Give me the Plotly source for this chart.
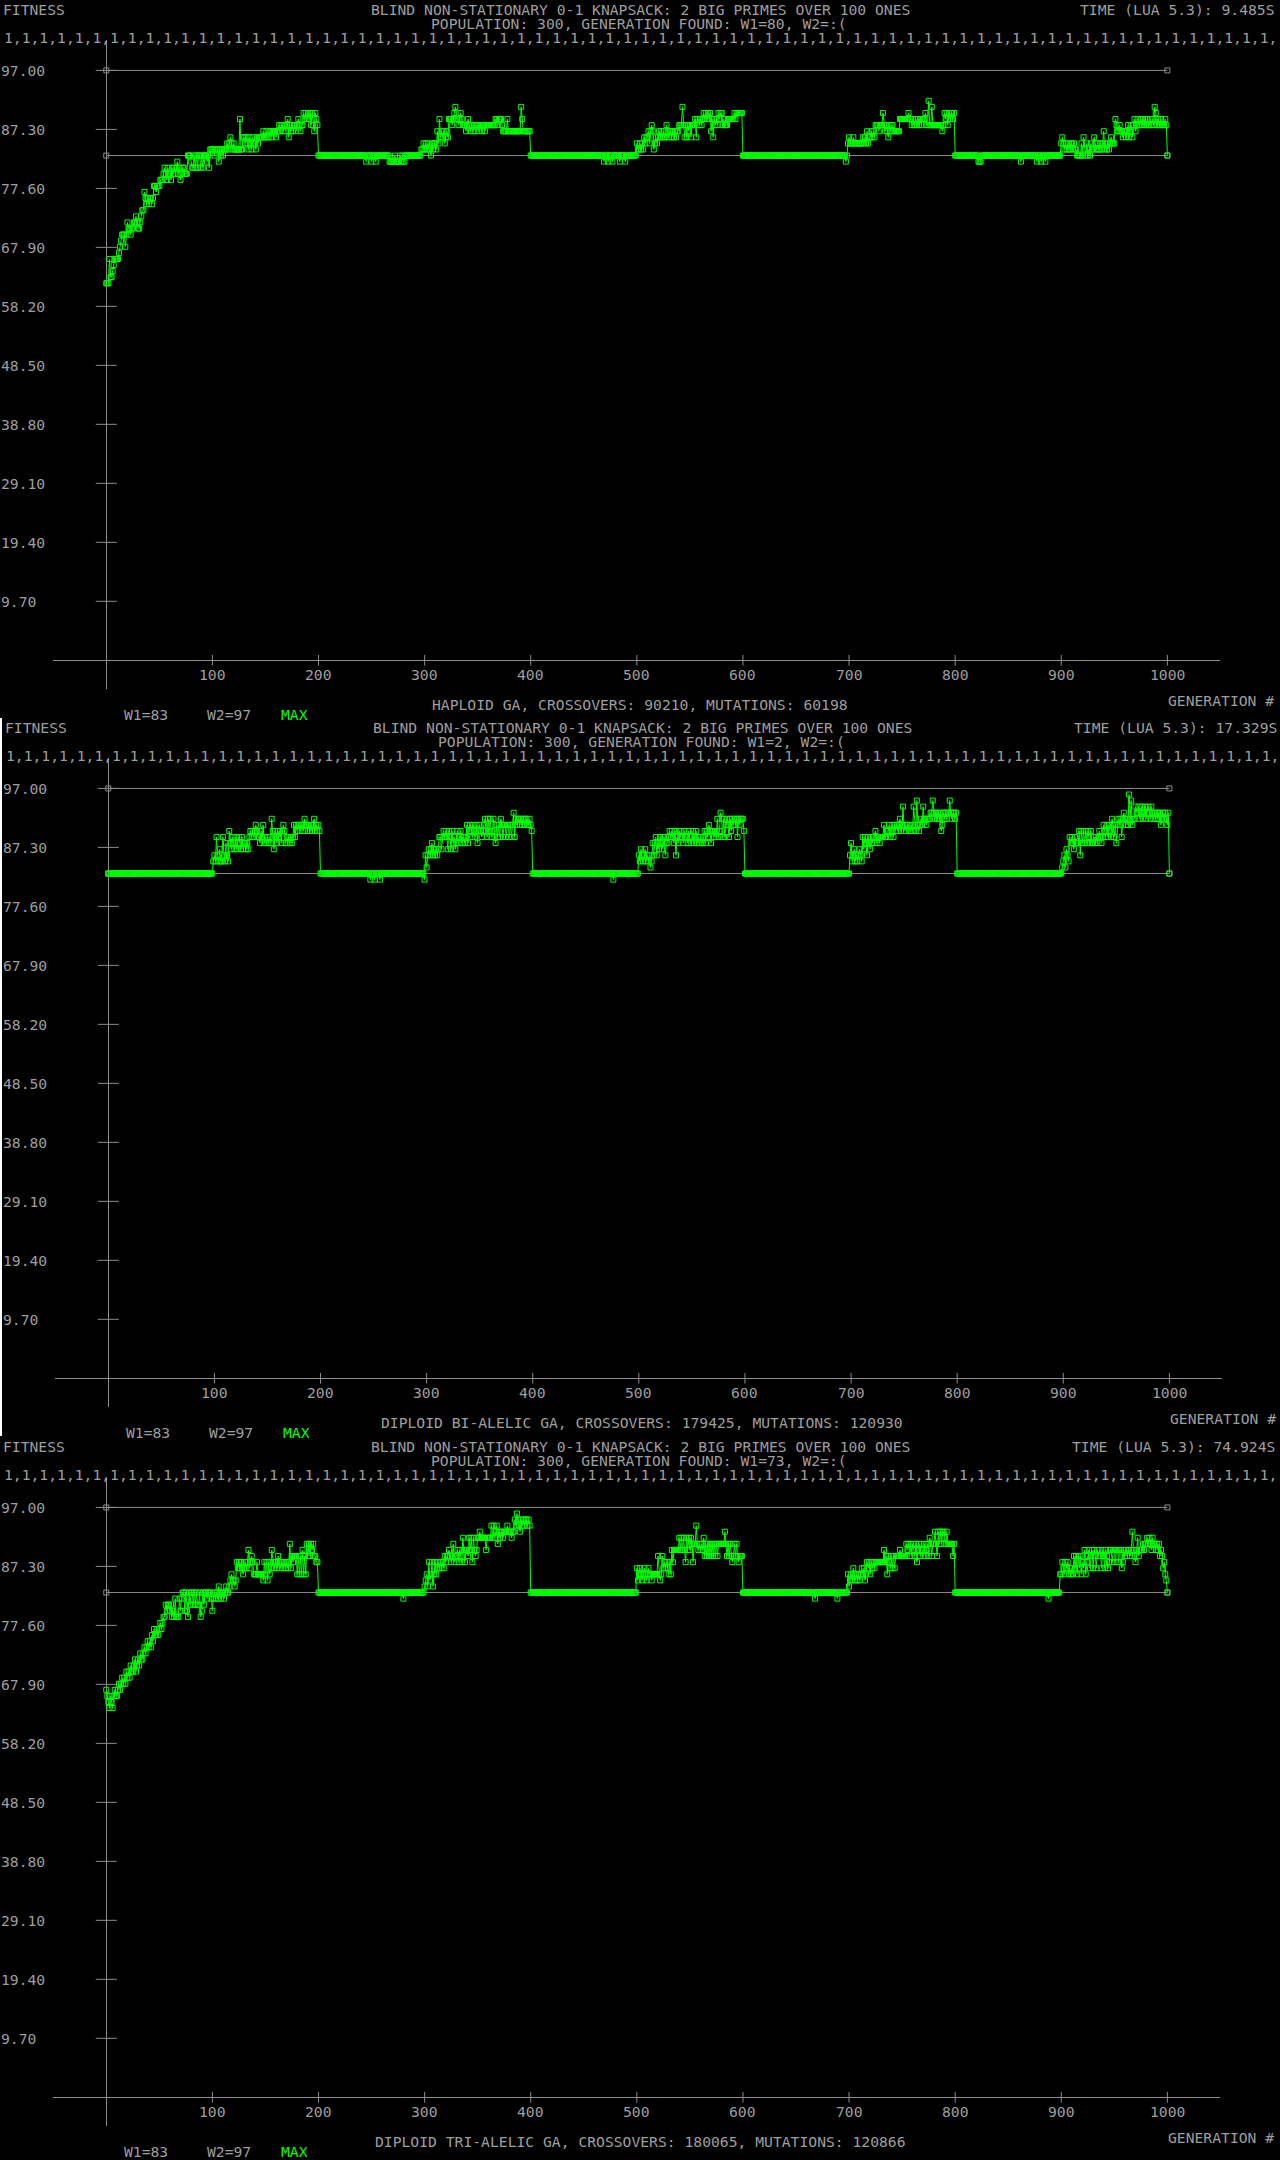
import plotly.graph_objects as go

# ---------------------------------------------------------------- data
GENERATIONS = list(range(0, 1001))
X_TICKS = [100, 200, 300, 400, 500, 600, 700, 800, 900, 1000]
X_TICK_LABELS = ["100", "200", "300", "400", "500", "600", "700", "800", "900", "1000"]
Y_TICKS = [9.7, 19.4, 29.1, 38.8, 48.5, 58.2, 67.9, 77.6, 87.3, 97.0]
Y_TICK_LABELS = ["9.70", "19.40", "29.10", "38.80", "48.50", "58.20", "67.90", "77.60", "87.30", "97.00"]
W1_VALUE = 83
W2_VALUE = 97
LEGEND_LABELS = ["W1=83", "W2=97", "MAX"]

TITLE_TOP = "BLIND NON-STATIONARY 0-1 KNAPSACK: 2 BIG PRIMES OVER 100 ONES"
POPULATION_LINES = [
    "POPULATION: 300, GENERATION FOUND: W1=80, W2=:(",
    "POPULATION: 300, GENERATION FOUND: W1=2, W2=:(",
    "POPULATION: 300, GENERATION FOUND: W1=73, W2=:(",
]
TIME_LINES = ["TIME (LUA 5.3): 9.485S", "TIME (LUA 5.3): 17.329S", "TIME (LUA 5.3): 74.924S"]
GA_LINES = [
    "HAPLOID GA, CROSSOVERS: 90210, MUTATIONS: 60198",
    "DIPLOID BI-ALELIC GA, CROSSOVERS: 179425, MUTATIONS: 120930",
    "DIPLOID TRI-ALELIC GA, CROSSOVERS: 180065, MUTATIONS: 120866",
]
GENOME_ROW = "1," * 72

# best fitness per generation.
# ramps are plain lists; the rest is one character per generation:
# value = 80 + digit (base 36, so a=90, b=91 ...)
HAPLOID_RAMP = [62, 62, 62, 66, 63, 63, 64, 65, 66, 66,
                66, 66, 67, 68, 69, 70, 70, 70, 68, 70,
                72, 71, 71, 70, 71, 71, 72, 72, 73, 72,
                71, 71, 72, 73, 74, 74, 77, 76, 75, 76,
                75, 76, 76, 75, 76, 78, 78, 77, 78, 78,
                78, 79, 79, 79, 80, 81, 80, 79, 81, 80,
                80, 79, 81, 80, 81, 80, 81, 82, 80, 81,
                79, 80, 81, 81, 80, 80, 80, 83, 83, 83,
                82, 81, 81, 83, 81, 83, 81, 83, 83, 81,
                83, 81, 83, 83, 83, 82, 83, 81, 84, 84]
HAPLOID_SEGMENTS = [
    "4434442434 3444545654 5444449446 6565465465 5465666676 6766776777 6778788787 8968787887 898788a9a9 a9a8a87a98",
    "3333333333 3333333333 3333333333 3333333333 3333323333 2333233333 3333333222 2232222323 2233333333 3333333445",
    "4545443545 5475967675 67699989ab 9989a98887 8987887878 8788788788 8888888998 9998777797 7777777777 7b97777777",
    "3333333333 3333333333 3333333333 3333333333 3333333333 3333333333 3333333332 3332333233 3333233332 3333333333",
    "5445454656 6757874565 6767676687 6776767677 888b868687 8688896998 989a9a9a9a 7969898a9a a898889999 99a9aaaaaa",
    "3333333333 3333333333 3333333333 3333333333 3333333333 3333333333 3333333333 3333333333 3333333333 3333333235",
    "6555655555 5556565756 6767688878 88a8787687 8877777799 999999a998 9889898989 99a88c88b8 8888888878 a9a8a9aa9a",
    "3333333333 3333333333 3322233333 3333333333 3333333333 3333333333 3323333333 3333333233 3233323333 3333333333",
    "5654545445 5454433335 3643534354 4654544545 7454545655 5987787767 7678678689 7898898989 89889898ba 8988988898",
]
BIALLELIC_SEGMENTS = [
    "3333333333 3333333333 3333333333 3333333333 3333333333 3333333333 3333333333 3333333333 3333333333 3333333335",
    "6596575596 5865a87987 9789879788 7879a9a9ab a998a9b898 9898ca7a98 a9a8aba898 98989b9bab babbacbbab ababcababa",
    "3333333333 3333333333 3333333333 3333333333 3333333233 3233332333 3333333333 3333333333 3333333333 3333333326",
    "4676786767 679979a9a9 7a97a8978a 89a89989b8 aba9ba9b8a ba9abca9ca c9ac98b9b9 cb9bb9bb9b 9bd9cbccbc bcbccbbcba",
    "3333333333 3333333333 3333333333 3333333333 3333333333 3333333333 3333333333 3333332333 3333333333 3333333333",
    "6576567565 6458689687 987996889a 9a98a698a9 a98a998a98 9a89a89898 89a8a9ba8a a9a9c9adc9 c9bcb9cacb cbc9cbccca",
    "3333333333 3333333333 3333333333 3333333333 3333333333 3333333333 3333333333 3333333333 3333333333 3333333336",
    "8567565676 5979869879 899a899899 9b99aab9ab 9bababcabe ababbaabae bafbabcbec cbcccddfdc dcdcdabdcd cddfdcddcd",
    "3333333333 3333333333 3333333333 3333333333 3333333333 3333333333 3333333333 3333333333 3333333333 3333333334",
    "5647659898 79888a6a8a 8a8a98a889 8989a989ba 9b9ba9cb9b 8bcbc9cdcb cbgcfbcced decdecdecd edcedcdcdc ddbcdcdcbd",
]
TRIALLELIC_RAMP = [67, 66, 65, 64, 66, 65, 64, 66, 67, 66,
                   66, 67, 68, 67, 68, 69, 68, 69, 68, 70,
                   69, 70, 69, 71, 70, 70, 71, 72, 70, 71,
                   72, 71, 73, 72, 72, 73, 74, 73, 74, 75,
                   74, 75, 74, 76, 75, 77, 76, 76, 77, 76,
                   77, 78, 77, 78, 79, 79, 81, 80, 81, 81,
                   80, 81, 79, 80, 79, 82, 79, 79, 79, 82,
                   80, 82, 83, 83, 80, 83, 80, 79, 83, 81,
                   83, 83, 81, 83, 81, 83, 81, 81, 83, 79,
                   80, 83, 81, 83, 83, 82, 83, 83, 83, 82]
TRIALLELIC_SEGMENTS = [
    "0232324323 3234334565 5458787876 7878a78986 6686666658 685867a878 8798788787 878b798999 69696a696b 9b9bab9988",
    "3333333333 3333333333 3333333333 3333333333 3333333333 3333333333 3333333333 3333333333 2333333333 3333333333",
    "4564856846 8678787879 899a989b89 9a8a98ca8a a9cac8ca9a ccdcccccac cccececdeb dcddcddded ddcddfegfe dfefeffefe",
    "3333333333 3333333333 3333333333 3333333333 3333333333 3333333333 3333333333 3333333333 3333333333 3333333333",
    "7567656765 6766566666 9656978787 686a8aaaaa cacaca8cac acb8bbebab abac9b9b9b 9b9b9b9bbb bbbdb9b9b9 89b9b98999",
    "3333333333 3333333333 3333333333 3333333333 3333333333 3333333333 3333333323 3333333333 3333333332 3333333336",
    "4565765656 5676756878 6878788888 888a896987 97979999a9 9999bab9b9 ba9b8ab9ba 9b9ab9cb9b bdb9dbdbdd cbdbbbbb9b",
    "3333333333 3333333333 3333333333 3333333333 3333333333 3333333333 3333333333 3333333333 3333333323 3333333336",
    "6876878676 7697969796 87a689a79a 7a97a9a97a 97a978aa8a a8aa8aa78a 9a9aa9ada9 8ac9aaabab bcbcbacbba bab9a97865",
]
FINAL_VALUE = 83


def decode(segments):
    vals = []
    for seg in segments:
        for ch in seg.replace(" ", ""):
            vals.append(80 + int(ch, 36))
    return vals


MAX_HAPLOID = HAPLOID_RAMP + decode(HAPLOID_SEGMENTS) + [FINAL_VALUE]
MAX_BIALLELIC = decode(BIALLELIC_SEGMENTS) + [FINAL_VALUE]
MAX_TRIALLELIC = TRIALLELIC_RAMP + decode(TRIALLELIC_SEGMENTS) + [FINAL_VALUE]
SERIES = [MAX_HAPLOID, MAX_BIALLELIC, MAX_TRIALLELIC]

# ---------------------------------------------------------------- style / layout
W, H = 1280, 2160
GREEN = "#00ff00"
LINE_GRAY = "#8c8c8c"
TEXT_GRAY = "#9e9e9e"
FONT = "DejaVu Sans Mono"
FS = 14.7

PANEL_OFFSETS = [0, 718, 1437]
PANEL_SHIFTS = [0, 2, 0]
PLOT_LEFT, PLOT_RIGHT = 53.0, 1219.6
PLOT_TOP, PLOT_BOTTOM = 40.0, 689.3
X_RANGE = [-50.2, 1049.2]
Y_RANGE = [-4.77, 102.0]

fig = go.Figure()
annotations = []
layout_axes = {}


def text_at(xp, yp, text, anchor="left", color=TEXT_GRAY):
    pad = {"left": -2, "right": 2, "center": 0}[anchor]
    return dict(x=(xp + pad) / W, y=1 - yp / H, xref="paper", yref="paper",
                text=text, showarrow=False, xanchor=anchor, yanchor="middle",
                font=dict(family=FONT, size=FS, color=color))


for i in range(3):
    o = PANEL_OFFSETS[i]
    dx = PANEL_SHIFTS[i]
    sfx = "" if i == 0 else str(i + 1)
    xname, yname = "x" + sfx, "y" + sfx

    layout_axes["xaxis" + sfx] = dict(
        domain=[(PLOT_LEFT + dx) / W, (PLOT_RIGHT + dx) / W], range=X_RANGE,
        showgrid=False, showticklabels=False, ticks="", showline=False,
        zeroline=True, zerolinecolor=LINE_GRAY, zerolinewidth=1,
        anchor=yname, fixedrange=True)
    layout_axes["yaxis" + sfx] = dict(
        domain=[1 - (o + PLOT_BOTTOM) / H, 1 - (o + PLOT_TOP) / H], range=Y_RANGE,
        showgrid=False, showticklabels=False, ticks="", showline=False,
        zeroline=True, zerolinecolor=LINE_GRAY, zerolinewidth=1,
        anchor=xname, fixedrange=True)

    # reference lines W2 and W1
    for ref in (W2_VALUE, W1_VALUE):
        fig.add_trace(go.Scatter(
            x=[0, GENERATIONS[-1]], y=[ref, ref], xaxis=xname, yaxis=yname,
            mode="lines+markers", line=dict(color=LINE_GRAY, width=1),
            marker=dict(symbol="square-open", size=5, color=LINE_GRAY,
                        line=dict(width=1, color=LINE_GRAY)),
            hoverinfo="skip"))
    # tick marks
    fig.add_trace(go.Scatter(
        x=[0] * len(Y_TICKS), y=Y_TICKS, xaxis=xname, yaxis=yname, mode="markers",
        marker=dict(symbol="line-ew", size=15, color=LINE_GRAY,
                    line=dict(width=1, color=LINE_GRAY)), hoverinfo="skip"))
    fig.add_trace(go.Scatter(
        x=X_TICKS, y=[0] * len(X_TICKS), xaxis=xname, yaxis=yname, mode="markers",
        marker=dict(symbol="line-ns", size=7.6, color=LINE_GRAY,
                    line=dict(width=1, color=LINE_GRAY)), hoverinfo="skip"))
    # MAX series
    fig.add_trace(go.Scatter(
        x=GENERATIONS[:len(SERIES[i])], y=SERIES[i], xaxis=xname, yaxis=yname,
        mode="lines+markers", line=dict(color=GREEN, width=1),
        marker=dict(symbol="square-open", size=5, color=GREEN,
                    line=dict(width=1, color=GREEN)),
        hoverinfo="skip"))

    # tick labels
    for v, lab in zip(Y_TICKS, Y_TICK_LABELS):
        annotations.append(dict(x=(dx - 1) / W, y=v, xref="paper", yref=yname,
                                text=lab, showarrow=False, xanchor="left", yanchor="middle",
                                font=dict(family=FONT, size=FS, color=TEXT_GRAY)))
    for v, lab in zip(X_TICKS, X_TICK_LABELS):
        annotations.append(dict(x=v, y=0, xref=xname, yref=yname, yshift=-13.9,
                                text=lab, showarrow=False, xanchor="center", yanchor="middle",
                                font=dict(family=FONT, size=FS, color=TEXT_GRAY)))

    # header texts
    annotations.append(text_at(dx + 3, o + 9.7, "FITNESS"))
    annotations.append(text_at(dx + 640, o + 9.7, TITLE_TOP, "center"))
    annotations.append(text_at(dx + 639, o + 23.3, POPULATION_LINES[i], "center"))
    annotations.append(text_at(dx + 1275, o + 9.7, TIME_LINES[i], "right"))
    annotations.append(text_at(dx + 3.5, o + 37.5, GENOME_ROW))
    # footer texts
    annotations.append(text_at(dx + 1274, o + 700.8, "GENERATION #", "right"))
    annotations.append(text_at(dx + 640, o + 704.5, GA_LINES[i], "center"))
    annotations.append(text_at(dx + 123.5, o + 714.2, LEGEND_LABELS[0]))
    annotations.append(text_at(dx + 207, o + 714.2, LEGEND_LABELS[1]))
    annotations.append(text_at(dx + 280.5, o + 714.2, LEGEND_LABELS[2], color=GREEN))

fig.update_layout(
    width=W, height=H, autosize=False,
    margin=dict(l=0, r=0, t=0, b=0, pad=0),
    paper_bgcolor="#000000", plot_bgcolor="#000000",
    showlegend=False, hovermode=False,
    annotations=annotations,
    shapes=[dict(type="rect", xref="paper", yref="paper", x0=0, x1=2 / W,
                 y0=1 - 1436 / H, y1=1 - 718 / H, fillcolor="#ffffff",
                 line=dict(width=0), layer="above")],
    **layout_axes,
)

fig.write_html(
    "out.html",
    config={"displayModeBar": False, "staticPlot": True},
    post_script="document.body.style.margin='0';document.body.style.background='#000';"
                "document.body.style.overflow='hidden';",
)
